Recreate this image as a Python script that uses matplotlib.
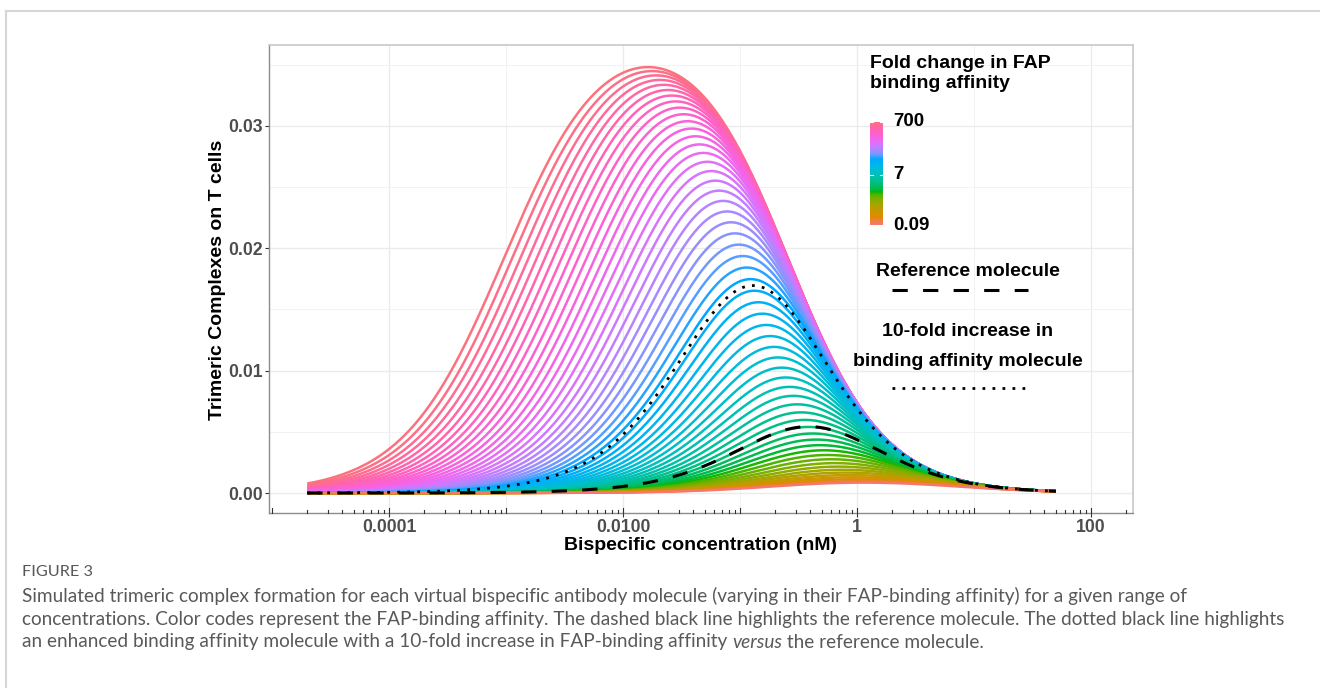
import numpy as np
import matplotlib
matplotlib.use("Agg")
import matplotlib.pyplot as plt
from matplotlib.colors import LinearSegmentedColormap
from matplotlib.lines import Line2D
from matplotlib.ticker import NullFormatter

# virtual molecules: fold change in FAP binding affinity (legend range 0.09 - 700)
n_curves = 57
fold_change = np.geomspace(0.09, 700, n_curves)
ref_fold = 1.0       # reference molecule (dashed)
tenfold = 10.0       # 10-fold increase molecule (dotted)

# simulated concentration range (nM)
conc_nM = np.geomspace(2e-5, 50, 600)

# model parameters (peaks / tails of the curves)
r_max = 0.039        # plateau of trimeric complexes
kd_fap_ref = 0.69    # nM, FAP KD of the reference molecule
k_hook = 0.25        # nM, hook effect on the CD3 arm
hook_n = 1.05

x_ticks = [1e-4, 1e-2, 1, 100]
x_ticklabels = ["0.0001", "0.0100", "1", "100"]
y_ticks = [0.0, 0.01, 0.02, 0.03]
y_ticklabels = ["0.00", "0.01", "0.02", "0.03"]
legend_ticks = [700, 7, 0.09]

caption_title = "FIGURE 3"
caption_lines = [
    "Simulated trimeric complex formation for each virtual bispecific antibody molecule (varying in their FAP-binding affinity) for a given range of",
    "concentrations. Color codes represent the FAP-binding affinity. The dashed black line highlights the reference molecule. The dotted black line highlights",
]
caption_last = ["an enhanced binding affinity molecule with a 10-fold increase in FAP-binding affinity ", "versus", " the reference molecule."]


def trimer(c, fold):
    return r_max * c / (c + kd_fap_ref / fold) / (1 + (c / k_hook) ** hook_n)


def hcl(h, c=100.0, l=65.0):
    # ggplot hue palette colour (polar Luv -> sRGB)
    h = np.deg2rad(h)
    u, v = c * np.cos(h), c * np.sin(h)
    xn, yn, zn = 95.047, 100.0, 108.883
    un = 4 * xn / (xn + 15 * yn + 3 * zn)
    vn = 9 * yn / (xn + 15 * yn + 3 * zn)
    Y = yn * ((l + 16) / 116) ** 3
    up = u / (13 * l) + un
    vp = v / (13 * l) + vn
    X = 9 * Y * up / (4 * vp)
    Z = 3 * Y / vp - X / 3 - 5 * Y
    M = np.array([[3.2404542, -1.5371385, -0.4985314],
                  [-0.9692660, 1.8760108, 0.0415560],
                  [0.0556434, -0.2040259, 1.0572252]])
    rgb = M @ (np.array([X, Y, Z]) / 100)
    rgb = np.where(rgb <= 0.0031308, 12.92 * rgb, 1.055 * np.abs(rgb) ** (1 / 2.4) - 0.055)
    return tuple(np.clip(rgb, 0, 1))


W, H = 1320, 688
def px(x, y):
    return x / W, 1 - y / H


BOLD = dict(family=["Liberation Sans", "DejaVu Sans"], fontweight="bold")

fig = plt.figure(figsize=(W / 100, H / 100), dpi=100)
fig.patch.set_facecolor("white")

# outer frame of the page
fig.add_artist(Line2D([6 / W, 1], [1 - 11 / H] * 2, color="#d6d6d6", lw=1.5))
fig.add_artist(Line2D([6 / W] * 2, [0, 1 - 11 / H], color="#d6d6d6", lw=1.5))

left, right, top, bottom = 269, 1133, 45, 513
ax = fig.add_axes([left / W, 1 - bottom / H, (right - left) / W, (bottom - top) / H])

# palette for the colour bar
bar_hues = 15 + 360 * np.arange(n_curves) / n_curves
bar_colors = [hcl(h) for h in bar_hues]

# curve colours: position along the palette (the picture puts mid-hues on lower curves)
lo, hi = np.log10(fold_change[0]), np.log10(fold_change[-1])
pos = ((np.log10(fold_change) - lo) / (hi - lo)) ** 0.707
curve_colors = [hcl(15 + 360 * (n_curves - 1) / n_curves * p) for p in pos]

for i in range(n_curves - 1, -1, -1):
    ax.plot(conc_nM, trimer(conc_nM, fold_change[i]), color=curve_colors[i], lw=1.8,
            solid_capstyle="butt", zorder=2)

ax.plot(conc_nM, trimer(conc_nM, ref_fold), color="black", lw=2.2,
        linestyle=(0, (5, 5)), zorder=4)
ax.plot(conc_nM, trimer(conc_nM, tenfold), color="black", lw=2.0,
        linestyle=(0, (1, 2.6)), zorder=4)

ax.set_xscale("log")
ax.set_xlim(10 ** -5.026, 10 ** 2.359)
ax.set_ylim(-0.00163, 0.0366)

ax.set_xticks(x_ticks)
ax.set_xticklabels(x_ticklabels)
ax.set_xticks([1e-3, 1e-1, 10], minor=True)
ax.xaxis.set_minor_formatter(NullFormatter())
ax.set_yticks(y_ticks)
ax.set_yticklabels(y_ticklabels)
ax.set_yticks([0.005, 0.015, 0.025, 0.035], minor=True)
ax.yaxis.set_minor_formatter(NullFormatter())
ax.grid(True, which="major", color="#ebebeb", lw=1.0, zorder=0)
ax.grid(True, which="minor", color="#f2f2f2", lw=0.7, zorder=0)
ax.set_axisbelow(True)
ax.tick_params(which="minor", length=0)
ax.tick_params(which="major", length=2.8, width=0.8, color="#333333", pad=1.5)
for lab in ax.get_xticklabels() + ax.get_yticklabels():
    lab.set_fontfamily(["Liberation Sans", "DejaVu Sans"])
    lab.set_fontweight("bold")
    lab.set_fontsize(12.7)
    lab.set_color("#4d4d4d")

for side in ["left", "bottom"]:
    ax.spines[side].set_color("#8c8c8c")
    ax.spines[side].set_linewidth(1.0)
for side in ["top", "right"]:
    ax.spines[side].set_color("#c8c8c8")
    ax.spines[side].set_linewidth(1.2)

# log ticks along the bottom, inside the panel
ph = bottom - top
for e in range(-5, 3):
    for m in range(1, 10):
        v = m * 10.0 ** e
        if v < ax.get_xlim()[0] or v > ax.get_xlim()[1]:
            continue
        ln = 5.0 if m == 1 else (3.5 if m == 5 else 2.6)
        ax.plot([v, v], [0, ln / ph], transform=ax.get_xaxis_transform(),
                color="#333333", lw=0.8, clip_on=False, zorder=5)

# axis titles
fig.text(*px(701, 546), "Bispecific concentration (nM)", ha="center", va="center",
         fontsize=14, color="black", **BOLD)
fig.text(*px(217, 280), "Trimeric Complexes on T cells", ha="center", va="center",
         rotation=90, fontsize=14, color="black", **BOLD)

# colour legend
fig.text(*px(870, 63), "Fold change in FAP", ha="left", va="center", fontsize=14, **BOLD)
fig.text(*px(870, 83), "binding affinity", ha="left", va="center", fontsize=14, **BOLD)
cax = fig.add_axes([870 / W, 1 - 225 / H, 13 / W, 103 / H])
cmap = LinearSegmentedColormap.from_list("hue", bar_colors)
grad = np.linspace(0, 1, 256).reshape(-1, 1)
cax.imshow(grad, cmap=cmap, aspect="auto", origin="lower", extent=[0, 1, 0, 1])
cax.set_axis_off()
for t in legend_ticks:
    f = (np.log10(t) - lo) / (hi - lo)
    cax.plot([0, 0.2], [f, f], color="white", lw=0.8)
    cax.plot([0.8, 1], [f, f], color="white", lw=0.8)
    ypix = 225 - f * 103
    fig.text(*px(893, ypix), f"{t:g}", ha="left", va="center", fontsize=13.5, **BOLD)

# line legend
fig.text(*px(968, 272), "Reference molecule", ha="center", va="center", fontsize=14, **BOLD)
fig.add_artist(Line2D([892 / W, 1028 / W], [1 - 290 / H] * 2, color="black", lw=2.2,
                      linestyle=(0, (5, 5))))
fig.text(*px(968, 332), "10-fold increase in", ha="center", va="center", fontsize=14, **BOLD)
fig.text(*px(968, 361), "binding affinity molecule", ha="center", va="center", fontsize=14, **BOLD)
fig.add_artist(Line2D([892 / W, 1028 / W], [1 - 388 / H] * 2, color="black", lw=2.0,
                      linestyle=(0, (1, 2.6))))

# caption
cap_font = ["Liberation Sans Narrow", "Lato", "DejaVu Sans"]
renderer = fig.canvas.get_renderer()
probe = fig.text(0, 0, caption_lines[0], fontsize=12, family=cap_font)
wpx = probe.get_window_extent(renderer).width
probe.remove()
cap_size = 12 * 1166 / wpx

fig.text(*px(22, 572), caption_title, ha="left", va="center", fontsize=cap_size * 0.85,
         color="#595959", family=cap_font)
for k, line in enumerate(caption_lines):
    fig.text(*px(22, 596 + 23 * k), line, ha="left", va="center", fontsize=cap_size,
             color="#595959", family=cap_font)
xcur = 22
for k, seg in enumerate(caption_last):
    t = fig.text(*px(xcur, 642), seg, ha="left", va="center", fontsize=cap_size,
                 color="#595959", family=cap_font, style="italic" if k == 1 else "normal")
    xcur += t.get_window_extent(renderer).width

fig.savefig("out.png", dpi=100)
